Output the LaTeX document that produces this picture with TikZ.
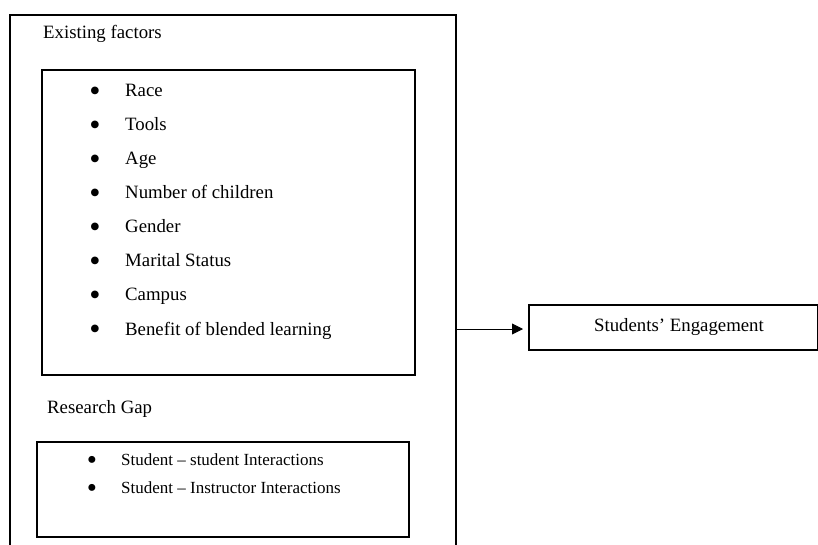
\documentclass[tikz,border=0pt]{standalone}
\usepackage{fontspec}
\setmainfont{Liberation Serif}
\usetikzlibrary{arrows.meta}
\tikzset{
  boxframe/.style={draw=black, line width=1.4bp, rectangle, inner sep=0pt},
  maintext/.style={font=\fontsize{18.8bp}{22bp}\selectfont, anchor=base west, inner sep=0pt},
  smalltext/.style={font=\fontsize{17bp}{20bp}\selectfont, anchor=base west, inner sep=0pt},
  bulletmark/.style={font=\fontsize{32bp}{34bp}\selectfont, anchor=center, inner sep=0pt},
  smallbullet/.style={font=\fontsize{29bp}{31bp}\selectfont, anchor=center, inner sep=0pt},
  flow/.style={draw=black, line width=0.9bp, -{Triangle[length=11bp,width=11bp]}}
}
\begin{document}
\begin{tikzpicture}[x=1bp, y=-1bp]
\useasboundingbox (0,0) rectangle (818,545);

% outer frame, open at the bottom edge
\coordinate (outerBL) at (10,550);
\coordinate (outerBR) at (456,550);
\draw[line width=1.4bp] (outerBL) |- (456,15) -- (outerBR);
\node[maintext] (existing) at (43,39) {Existing factors};

% box with the existing factors
\node[boxframe, minimum width=373bp, minimum height=305bp] (factors) at (228.5,222.5) {};
\foreach \i/\t in {0/Race, 1/Tools, 2/Age, 3/Number of children, 4/Gender,
                   5/Marital Status, 6/Campus, 7/Benefit of blended learning} {
  \node[bulletmark] (b\i) at (95,94.5+34*\i) {\textbullet};
  \node[maintext] (f\i) at (125,97+34*\i) {\t};
}

% research gap
\node[maintext] (gaptitle) at (47,413) {Research Gap};
\node[boxframe, minimum width=372bp, minimum height=95bp] (gap) at (223,489.5) {};
\node[smallbullet] (g0b) at (92,462.5) {\textbullet};
\node[smalltext] (g0) at (121,465) {Student – student Interactions};
\node[smallbullet] (g1b) at (92,490.5) {\textbullet};
\node[smalltext] (g1) at (121,493) {Student – Instructor Interactions};

% outcome box and connector
\node[boxframe, minimum width=289bp, minimum height=45bp] (eng) at (673.5,327.5) {};
\node[font=\fontsize{18.8bp}{22bp}\selectfont, anchor=base, inner sep=0pt] (engtext) at (679,331) {Students’ Engagement};
\coordinate (outerR) at (456,329);
\coordinate (engIn) at (523,329);
\draw[flow] (outerR) -- (engIn);
\end{tikzpicture}
\end{document}
